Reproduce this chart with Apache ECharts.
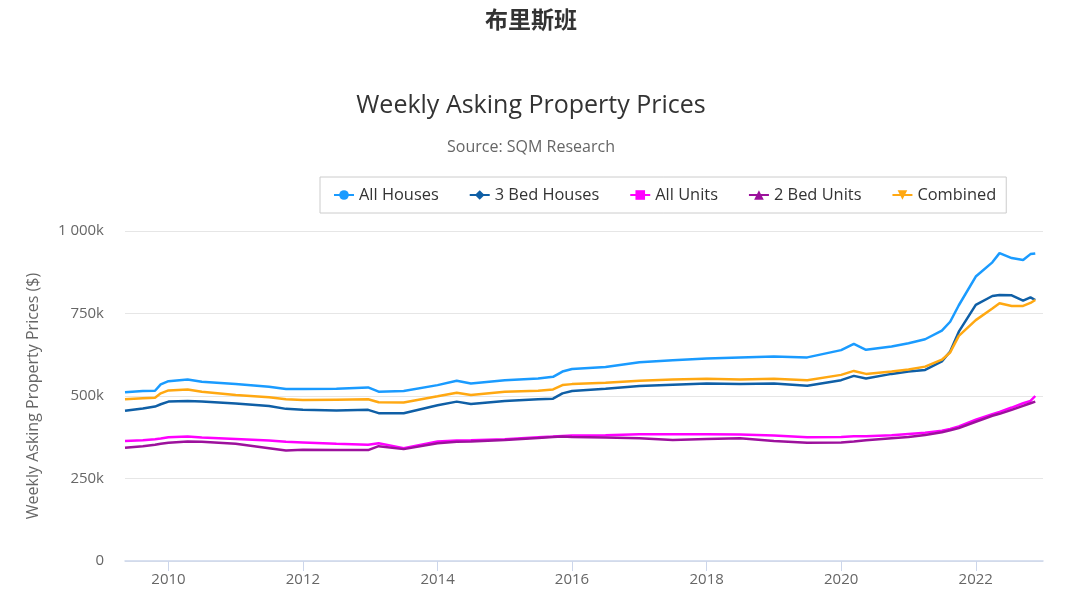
<!DOCTYPE html>
<html>
<head>
<meta charset="utf-8">
<script src="https://cdn.jsdelivr.net/npm/echarts@6/dist/echarts.min.js"></script>
<style>
html,body{margin:0;padding:0;background:#fff;}
#chart{width:1080px;height:590px;}
</style>
</head>
<body>
<div id="chart"></div>
<script>
// Dates of the sampled points
const dates = [
  '2009-05-10','2009-08-15','2009-10-20','2009-11-20','2010-01-01','2010-04-15','2010-07-01',
  '2011-01-01','2011-07-01','2011-10-01','2012-01-01','2012-07-01','2012-12-20','2013-02-15',
  '2013-07-01','2014-01-01','2014-04-15','2014-07-01','2015-01-01','2015-07-01','2015-09-20',
  '2015-11-10','2016-01-01','2016-07-01','2017-01-01','2017-07-01','2018-01-01','2018-07-01',
  '2019-01-01','2019-07-01','2020-01-01','2020-03-10','2020-05-15','2020-10-01','2021-01-01',
  '2021-04-01','2021-07-01','2021-08-15','2021-10-01','2022-01-01','2022-04-01','2022-05-10',
  '2022-07-15','2022-09-15','2022-10-25','2022-11-20'
];
// Values in thousands of dollars
const allHouses = [511,515,516,535,545,550,543,536,528,521,521,522,526,513,515,533,546,538,548,553,558,574,582,588,602,608,614,617,620,617,639,658,640,650,660,672,698,725,775,862,905,933,918,912,930,932];
const bed3Houses = [455,462,468,475,483,485,483,477,470,461,458,456,458,448,448,472,483,476,485,490,492,508,515,522,530,534,538,536,538,531,548,561,553,567,574,579,605,635,695,776,803,806,805,789,799,791];
const allUnits = [364,366,369,371,375,377,374,370,365,361,359,355,352,357,342,362,365,366,369,375,377,379,380,381,384,384,384,383,380,375,376,378,378,381,385,389,395,400,408,428,445,452,465,478,485,500];
const bed2Units = [343,348,352,355,358,362,361,355,342,335,337,336,336,348,339,357,361,362,367,373,376,377,376,374,372,367,370,372,364,358,359,362,366,372,376,382,390,396,403,422,440,446,458,470,478,483];
const combined = [490,493,495,508,517,520,513,503,496,490,488,489,490,481,480,499,510,503,513,516,520,533,536,540,546,550,552,550,552,548,564,576,567,574,580,589,610,632,682,730,765,781,773,773,782,791];
const yearTicks = [2010,2012,2014,2016,2018,2020,2022];
const seriesNames = ['All Houses','3 Bed Houses','All Units','2 Bed Units','Combined'];
const colors = ['#1a9bff','#0f5fa6','#ff00ff','#9c119c','#ffa812'];
const symbols = ['circle','diamond','rect','triangle','path://M0,0 L10,0 L5,9 Z'];

const seriesValues = [allHouses, bed3Houses, allUnits, bed2Units, combined];

function fmtK(v){
  if (v === 0) return '0';
  const s = String(Math.round(v));
  return s.replace(/\B(?=(\d{3})+(?!\d))/g, ' ') + 'k';
}
const ts = s => Date.parse(s + 'T00:00:00Z');
const tickTs = yearTicks.map(y => Date.UTC(y, 0, 1));

const chart = echarts.init(document.getElementById('chart'));
const font = 'Open Sans, Noto Sans, sans-serif';
chart.setOption({
  animation: false,
  backgroundColor: '#fff',
  title: [
    {text: '布里斯班', left: 526, top: 3, textAlign: 'center',
     textStyle: {fontFamily: 'Noto Sans CJK SC', fontWeight: 'bold', fontSize: 23, color: '#333'}},
    {text: 'Weekly Asking Property Prices', left: 526, top: 88, textAlign: 'center',
     textStyle: {fontFamily: font, fontWeight: 'normal', fontSize: 25, color: '#333'}},
    {text: 'Source: SQM Research', left: 526, top: 134, textAlign: 'center',
     textStyle: {fontFamily: font, fontWeight: 'normal', fontSize: 16, color: '#666'}}
  ],
  legend: {
    left: 320, top: 177,
    data: seriesNames,
    borderColor: '#cccccc', borderWidth: 1, borderRadius: 0,
    padding: [10, 10, 10, 13],
    itemGap: 30, itemWidth: 20, itemHeight: 12,
    textStyle: {fontFamily: font, fontSize: 16.4, color: '#333', fontWeight: 'normal'}
  },
  grid: {left: 125, right: 37, top: 231, bottom: 29, containLabel: false},
  xAxis: {
    type: 'value',
    min: ts('2009-05-10'), max: ts('2023-01-01'),
    axisLine: {lineStyle: {color: '#ccd6eb', width: 1.5}},
    axisTick: {show: true, length: 10, lineStyle: {color: '#ccd6eb'}, customValues: tickTs},
    axisLabel: {color: '#666', fontFamily: font, fontSize: 15, margin: 11,
                customValues: tickTs,
                formatter: v => String(new Date(v).getUTCFullYear())},
    splitLine: {show: false}
  },
  yAxis: {
    type: 'value', min: 0, max: 1000, interval: 250,
    name: 'Weekly Asking Property Prices ($)', nameLocation: 'middle', nameGap: 84,
    nameTextStyle: {color: '#666', fontFamily: font, fontSize: 16},
    axisLine: {show: false}, axisTick: {show: false},
    axisLabel: {color: '#666', fontFamily: font, fontSize: 15, margin: 21, formatter: fmtK},
    splitLine: {lineStyle: {color: '#e6e6e6'}}
  },
  series: seriesNames.map((n, i) => ({
    name: n, type: 'line', color: colors[i],
    symbol: symbols[i], symbolSize: 8, showSymbol: false,
    lineStyle: {width: 2.5, color: colors[i]},
    data: dates.map((d, j) => [ts(d), seriesValues[i][j]])
  }))
});
</script>
</body>
</html>
